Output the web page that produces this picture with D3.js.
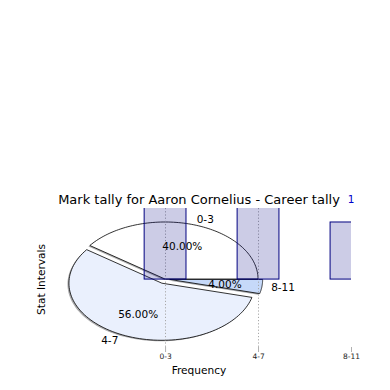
<!DOCTYPE html>
<html>
<head>
<meta charset="utf-8">
<script src="https://cdn.jsdelivr.net/npm/d3@7"></script>
<style>
  html, body { margin: 0; padding: 0; background: #fff; }
  svg { display: block; font-family: "DejaVu Sans", sans-serif; }
</style>
</head>
<body>
<svg id="chart" width="390" height="390"></svg>
<script>
// ---- data ----
const categories = ["0-3", "4-7", "8-11"];
const counts = [10, 14, 1];
const percents = [40, 56, 4];
const sliceColors = ["#ffffff", "#eaf0fd", "#c6d9f9"];
const explode = [0, 0.08, 0.05];
const xTickLabels = ["0-3", "4-7", "8-11"];
const titleText = "Mark tally for Aaron Cornelius - Career tally";
const xLabelText = "Frequency";
const yLabelText = "Stat Intervals";

// ---- layout ----
const W = 390, H = 390;
const ax = { left: 47, right: 351, top: 208, bottom: 347 };
const svg = d3.select("#chart");

const x = d3.scaleLinear().domain([-1.27, 2]).range([ax.left, ax.right]);
const y = d3.scaleLinear().domain([-1.19, 1.245]).range([ax.bottom, ax.top]);

svg.append("defs").append("clipPath").attr("id", "axclip")
  .append("rect").attr("x", ax.left).attr("y", ax.top)
  .attr("width", ax.right - ax.left).attr("height", ax.bottom - ax.top);

const plot = svg.append("g").attr("clip-path", "url(#axclip)");

// ---- pie (matplotlib-style, counterclockwise from 0deg, in data units) ----
const pieGen = d3.pie().sort(null).startAngle(0).endAngle(2 * Math.PI);
const arcs = pieGen(percents);
const R = 1;
const line = d3.line().x(p => x(p[0])).y(p => y(p[1]));
function wedgePts(a0, a1, cx, cy) {
  const pts = [[cx, cy]];
  const n = 90;
  for (let i = 0; i <= n; i++) {
    const t = a0 + (a1 - a0) * i / n;
    pts.push([cx + R * Math.cos(t), cy + R * Math.sin(t)]);
  }
  pts.push([cx, cy]);
  return pts;
}
const wedges = arcs.map((a, i) => {
  const mid = (a.startAngle + a.endAngle) / 2;
  const cx = explode[i] * Math.cos(mid), cy = explode[i] * Math.sin(mid);
  return { i, a0: a.startAngle, a1: a.endAngle, mid, cx, cy };
});
// shadows
const shadowG = plot.append("g");
wedges.forEach(w => {
  const c = d3.rgb(sliceColors[w.i]);
  const sc = d3.rgb(c.r * 0.3, c.g * 0.3, c.b * 0.3);
  shadowG.append("path")
    .attr("d", line(wedgePts(w.a0, w.a1, w.cx - 0.016, w.cy - 0.018)) + "Z")
    .attr("fill", sc).attr("fill-opacity", 0.45)
    .attr("stroke", "none");
});
const wedgeG = plot.append("g");
wedges.forEach(w => {
  wedgeG.append("path")
    .attr("d", line(wedgePts(w.a0, w.a1, w.cx, w.cy)) + "Z")
    .attr("fill", sliceColors[w.i])
    .attr("stroke", "#000").attr("stroke-width", 0.8)
    .attr("stroke-linejoin", "round");
});

// ---- grid ----
const xs = categories.map((c, i) => i);
plot.append("g").selectAll("line").data(xs).join("line")
  .attr("x1", d => Math.round(x(d)) + 0.5).attr("x2", d => Math.round(x(d)) + 0.5)
  .attr("y1", ax.top).attr("y2", ax.bottom)
  .attr("stroke", "#a8a8a8").attr("stroke-width", 1)
  .attr("stroke-dasharray", "1.2,2");

// ---- bars ----
const barW = 0.45;
plot.append("g").selectAll("rect").data(counts).join("rect")
  .attr("x", (d, i) => x(i - barW / 2))
  .attr("width", x(barW) - x(0))
  .attr("y", d => y(d))
  .attr("height", d => y(0) - y(d))
  .attr("fill", "#000080").attr("fill-opacity", 0.2)
  .attr("stroke", "#000080").attr("stroke-width", 1);

// ---- pie labels ----
const labG = svg.append("g").attr("clip-path", "url(#axclip)");
wedges.forEach(w => {
  const lx = w.cx + 1.1 * R * Math.cos(w.mid);
  const ly = w.cy + 1.1 * R * Math.sin(w.mid);
  labG.append("text")
    .attr("x", x(lx)).attr("y", y(ly))
    .attr("text-anchor", lx > 0 ? "start" : "end")
    .attr("dominant-baseline", "central")
    .attr("font-size", 10.5).attr("fill", "#000")
    .text(categories[w.i]);
  const px = w.cx + 0.6 * R * Math.cos(w.mid);
  const py = w.cy + 0.6 * R * Math.sin(w.mid);
  labG.append("text")
    .attr("x", x(px)).attr("y", y(py))
    .attr("text-anchor", "middle")
    .attr("dominant-baseline", "central")
    .attr("font-size", 10.5).attr("fill", "#000")
    .text(percents[w.i].toFixed(2) + "%");
});

// ---- bar value labels (only those that fall inside the figure) ----
const valueLabels = counts.map((d, i) => ({ d, i, ly: y(d) - 23 }))
  .filter(o => o.ly > 6);
svg.append("g").selectAll("text").data(valueLabels).join("text")
  .attr("x", o => x(o.i))
  .attr("y", o => o.ly)
  .attr("text-anchor", "middle")
  .attr("dominant-baseline", "central")
  .attr("font-size", 10.5).attr("fill", "#0000cc")
  .text(o => o.d);

// ---- x axis ----
const xAxis = d3.axisBottom(x).tickValues(xs).tickFormat((d, i) => xTickLabels[i])
  .tickSizeOuter(0).tickSizeInner(5).tickPadding(2);
const gx = svg.append("g").attr("transform", `translate(0,${ax.bottom})`).call(xAxis);
gx.select(".domain").remove();
gx.selectAll(".tick line").attr("stroke", "#b0b0b0");
gx.selectAll(".tick text").attr("font-size", 7.5).attr("fill", "#222")
  .attr("font-family", "DejaVu Sans, sans-serif");

// ---- titles ----
svg.append("text").attr("x", (ax.left + ax.right) / 2).attr("y", ax.top - 4)
  .attr("text-anchor", "middle").attr("font-size", 13).attr("fill", "#000")
  .text(titleText);
svg.append("text").attr("x", (ax.left + ax.right) / 2).attr("y", 370)
  .attr("text-anchor", "middle").attr("dominant-baseline", "central")
  .attr("font-size", 10.6).attr("fill", "#000").text(xLabelText);
svg.append("text")
  .attr("transform", `translate(41,${(ax.top + ax.bottom) / 2 + 2}) rotate(-90)`)
  .attr("text-anchor", "middle").attr("dominant-baseline", "central")
  .attr("font-size", 10.6).attr("fill", "#000").text(yLabelText);
</script>
</body>
</html>
